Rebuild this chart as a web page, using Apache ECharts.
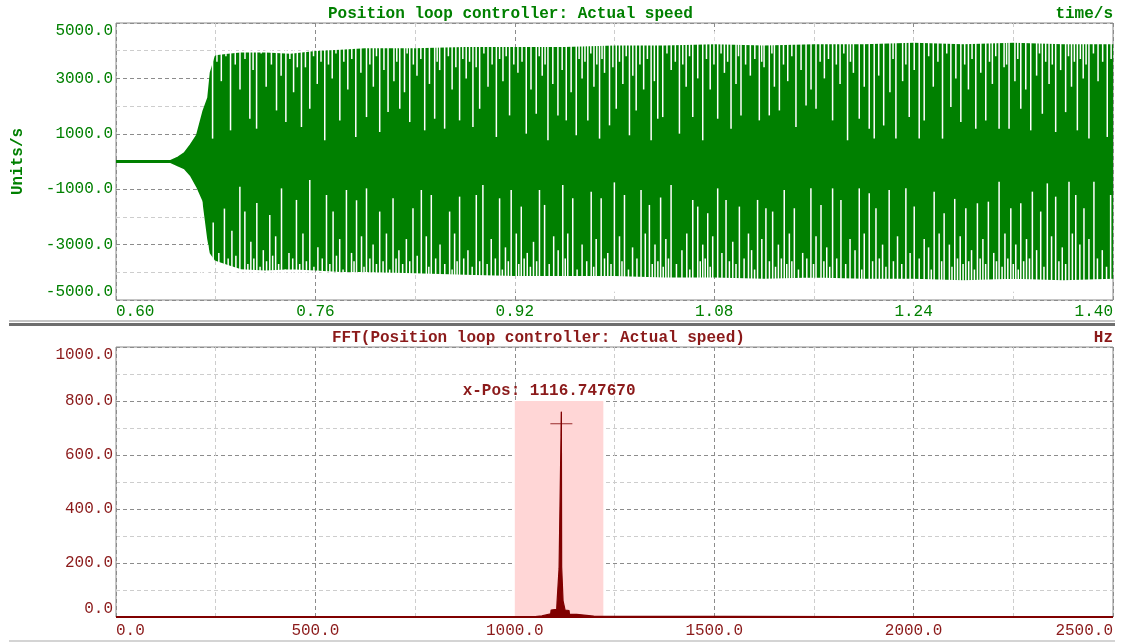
<!DOCTYPE html>
<html>
<head>
<meta charset="utf-8">
<script src="https://cdn.jsdelivr.net/npm/echarts/dist/echarts.min.js"></script>
<style>
  html, body { margin: 0; padding: 0; background: #fff; }
  #chart { width: 1125px; height: 644px; }
</style>
</head>
<body>
<div id="chart"></div>
<script>
// envelope of the speed signal (time/s, Units/s)
const sigT  = [0.600, 0.643, 0.650, 0.655, 0.660, 0.665, 0.670, 0.674, 0.676, 0.680, 0.690, 0.700, 0.720, 0.740, 0.760, 0.780, 0.800, 0.840, 0.880, 0.920, 0.960, 1.000, 1.040, 1.080, 1.120, 1.160, 1.200, 1.240, 1.280, 1.320, 1.360, 1.400];
const sigHi = [0, 0, 150, 300, 600, 950, 1800, 2300, 3200, 3800, 3850, 3900, 3900, 3850, 3950, 4000, 4050, 4050, 4100, 4100, 4100, 4150, 4150, 4200, 4150, 4200, 4200, 4250, 4200, 4250, 4200, 4200];
const sigLo = [0, 0, -150, -250, -500, -900, -1400, -2800, -3300, -3550, -3700, -3850, -3900, -3850, -3900, -3950, -3950, -4000, -4050, -4100, -4100, -4100, -4150, -4150, -4200, -4150, -4200, -4200, -4250, -4200, -4250, -4200];

// white gaps between the peaks: [time, value the gap reaches]
const topDeep = [[0.6775,826],[0.6919,1125],[0.7074,1544],[0.7128,1185],[0.7288,1843],[0.7363,1424],[0.7488,1245],[0.7555,1903],[0.7675,766],[0.7796,1484],[0.7924,886],[0.8010,1604],[0.8116,1065],[0.8183,1783],[0.8277,1903],[0.8357,1424],[0.8477,1125],
  [0.8557,1544],[0.8637,1185],[0.8757,1484],[0.8864,1245],[0.8918,1903],[0.9052,886],[0.9158,1664],[0.9292,1005],[0.9372,1723],[0.9466,766],[0.9546,1664],[0.9613,1484],[0.9693,946],[0.9786,1484],[0.9880,826],[0.9960,1305],[1.0014,1903],[1.0120,946],[1.0174,1843],[1.0294,766],[1.0347,1544],
  [1.0387,1604],[1.0521,1005],[1.0628,1604],[1.0708,766],[1.0828,1544],[1.0935,1185],[1.1015,1664],[1.1162,1484],[1.1242,1664],[1.1323,1843],[1.1456,1245],[1.1537,2023],[1.1617,1903],[1.1750,1484],[1.1870,766],[1.1964,1544],[1.2044,1185],[1.2084,826],[1.2160,1300],
  [1.2258,826],[1.2365,1604],[1.2445,826],[1.2485,1484],[1.2632,826],[1.2699,1963],[1.2779,1424],[1.2899,1185],[1.2979,1484],[1.3086,1185],[1.3166,1185],[1.3260,1903],[1.3340,1125],[1.3433,1723],[1.3540,1065],[1.3620,1783],[1.3714,1125],[1.3807,826],[1.3954,886]];
const topShort = [[0.6845,2900],[0.6995,2600],[0.7100,3300],[0.7205,2700],[0.7325,3100],[0.7425,2500],[0.7520,3400],[0.7615,2800],[0.7735,3000],[0.7860,2600],[0.7965,3200],[0.8065,2700],[0.8150,3300],[0.8230,2900],[0.8315,2500],[0.8415,3100],[0.8515,2800],[0.8597,3300],[0.8697,2600],[0.8810,3000],[0.8890,3400],[0.8985,2700],[0.9105,2900],[0.9225,3200],[0.9330,2600],[0.9420,3100],[0.9505,2800],[0.9580,3300],[0.9652,2500],[0.9740,3000],[0.9835,2700],[0.9920,3200],[0.9987,3400],[1.0067,2800],[1.0147,3100],[1.0234,2600],[1.0320,2900],[1.0455,3300],[1.0575,2700],[1.0668,3000],[1.0768,2600],[1.0882,3200],[1.0975,2800],[1.1090,3100],[1.1200,3400],[1.1283,2700],[1.1390,2900],[1.1497,3300],[1.1577,2600],[1.1684,3000],[1.1810,2800],[1.1917,3200],[1.2004,2700],[1.2120,3100],[1.2210,2500],[1.2312,2900],[1.2405,3300],[1.2558,2700],[1.2739,3000],[1.2840,2600],[1.2939,3200],[1.3032,2800],[1.3126,3400],[1.3213,2900],[1.3300,2600],[1.3387,3100],[1.3487,2800],[1.3580,3300],[1.3667,2700],[1.3761,3000],[1.3880,2900]];
const topFringe = [[0.6810,3600],[0.6882,3800],[0.6957,3500],[0.7035,3700],[0.7165,3900],[0.7247,3500],[0.7395,3700],[0.7455,3400],[0.7585,3800],[0.7645,3600],[0.7705,3500],[0.7765,3900],[0.7828,3600],[0.7892,3700],[0.8037,3500],[0.8090,3800],[0.8253,3600],[0.8336,3900],[0.8386,3500],[0.8446,3700],[0.8577,3600],[0.8667,3800],[0.8727,3400],[0.8783,3700],[0.8837,3600],[0.8952,3900],[0.9018,3500],[0.9078,3700],[0.9131,3800],[0.9192,3500],[0.9258,3600],[0.9396,3800],[0.9443,3500],[0.9716,3700],[0.9763,3600],[0.9810,3900],[0.9858,3500],[0.9900,3700],[1.0040,3600],[1.0094,3800],[1.0204,3500],[1.0264,3700],[1.0421,3900],[1.0488,3600],[1.0548,3500],[1.0602,3800],[1.0738,3700],[1.0798,3500],[1.0855,3900],[1.0908,3600],[1.0995,3800],[1.1052,3500],[1.1126,3700],[1.1181,3600],[1.1263,3900],[1.1356,3500],[1.1423,3800],[1.1650,3600],[1.1717,3700],[1.1780,3500],[1.1840,3900],[1.1893,3600],[1.2235,3700],[1.2338,3500],[1.2521,3800],[1.2595,3600],[1.2666,3900],[1.2810,3500],[1.2869,3700],[1.3009,3600],[1.3059,3800],[1.3146,3500],[1.3236,3700],[1.3410,3900],[1.3460,3600],[1.3513,3500],[1.3643,3800],[1.3690,3600],[1.3738,3700],[1.3784,3500],[1.3843,3900],[1.3917,3600],[1.3985,3700]];
const botDeep = [[0.6687,-1448],[0.6780,-2200],[0.6870,-1700],[0.6930,-2500],[0.6994,-910],[0.7034,-1807],[0.7130,-1500],[0.7234,-1927],[0.7328,-970],[0.7448,-1388],[0.7555,-670],[0.7689,-1209],[0.7742,-1807],[0.7849,-1029],[0.7930,-1400],[0.8010,-970],[0.8116,-1807],[0.8223,-1329],[0.8383,-1688],[0.8450,-1029],
  [0.8530,-1209],[0.8677,-1807],[0.8757,-1269],[0.8891,-1209],[0.8944,-850],[0.9078,-1329],[0.9171,-1029],[0.9252,-1628],[0.9398,-1029],[0.9439,-1568],[0.9585,-850],[0.9665,-1329],[0.9813,-1089],[0.9893,-1329],[0.9999,-754],[1.0080,-1209],[1.0213,-1029],[1.0280,-1568],[1.0370,-1300],
  [1.0454,-850],[1.0628,-1388],[1.0668,-1628],[1.0748,-1867],[1.0828,-970],[1.0895,-1388],[1.1002,-1628],[1.1148,-1388],[1.1215,-1688],[1.1269,-1807],[1.1362,-1029],[1.1443,-1688],[1.1576,-970],[1.1657,-1568],[1.1750,-970],[1.1817,-1388],[1.1964,-970],[1.2044,-1149],[1.2098,-1688],
  [1.2204,-1029],[1.2338,-970],[1.2405,-1628],[1.2565,-1089],[1.2645,-1867],[1.2730,-1350],[1.2819,-1688],[1.2912,-1508],[1.3000,-1450],[1.3086,-730],[1.3180,-1688],[1.3260,-1508],[1.3353,-1089],[1.3420,-1807],[1.3473,-790],[1.3540,-1269],[1.3647,-730],[1.3701,-1209],[1.3767,-1688],[1.3847,-730],[1.3981,-1209]];
const botShort = [[0.7082,-2900],[0.7182,-3200],[0.7281,-2700],[0.7388,-3300],[0.7500,-2600],[0.7620,-3100],[0.7795,-2800],[0.7890,-3300],[0.7970,-2700],[0.8063,-3000],[0.8170,-2600],[0.8270,-3200],[0.8330,-2800],[0.8417,-3400],[0.8490,-2700],[0.8600,-3000],[0.8717,-2600],[0.8824,-3200],[0.9011,-2800],[0.9125,-3100],[0.9212,-2600],[0.9300,-3300],[0.9350,-2900],[0.9512,-2700],[0.9548,-3200],[0.9625,-2600],[0.9740,-3000],[0.9853,-2800],[0.9946,-3300],[1.0040,-2700],[1.0145,-3100],[1.0247,-2600],[1.0325,-3000],[1.0412,-2800],[1.0541,-3200],[1.0580,-2600],[1.0708,-3000],[1.0788,-2700],[1.0862,-3300],[1.0949,-2900],[1.1075,-2600],[1.1100,-3200],[1.1182,-2800],[1.1315,-3000],[1.1403,-2600],[1.1510,-3300],[1.1617,-2700],[1.1703,-3100],[1.1890,-2800],[1.1930,-3200],[1.2004,-2600],[1.2151,-3000],[1.2271,-2700],[1.2372,-3300],[1.2485,-2800],[1.2520,-3100],[1.2605,-2600],[1.2687,-3000],[1.2774,-2700],[1.2865,-3200],[1.2956,-2800],[1.3043,-3300],[1.3133,-2600],[1.3220,-3000],[1.3306,-2800],[1.3387,-3200],[1.3507,-2700],[1.3593,-3100],[1.3674,-2600],[1.3734,-3000],[1.3807,-2800],[1.3914,-3200]];
const botFringe = [[0.6735,-3000],[0.6825,-3300],[0.6900,-3500],[0.6962,-3400],[0.7058,-3700],[0.7106,-3500],[0.7156,-3800],[0.7208,-3600],[0.7257,-3400],[0.7305,-3700],[0.7358,-3900],[0.7418,-3500],[0.7474,-3700],[0.7528,-3600],[0.7588,-3800],[0.7655,-3500],[0.7716,-3700],[0.7769,-3400],[0.7822,-3900],[0.7910,-3600],[0.7990,-3800],[0.8037,-3500],[0.8090,-3700],[0.8143,-3600],[0.8196,-3900],[0.8247,-3500],[0.8300,-3700],[0.8357,-3600],[0.8510,-3800],[0.8565,-3500],[0.8638,-3700],[0.8697,-3900],[0.8737,-3600],[0.8790,-3500],[0.8858,-3800],[0.8918,-3600],[0.8978,-3700],[0.9044,-3500],[0.9100,-3900],[0.9148,-3600],[0.9232,-3700],[0.9275,-3500],[0.9325,-3800],[0.9375,-3600],[0.9476,-3700],[0.9605,-3500],[0.9700,-3900],[0.9777,-3600],[0.9833,-3800],[0.9920,-3500],[0.9972,-3700],[1.0060,-3600],[1.0112,-3900],[1.0180,-3500],[1.0303,-3700],[1.0348,-3600],[1.0391,-3800],[1.0433,-3500],[1.0497,-3700],[1.0604,-3900],[1.0688,-3600],[1.0728,-3500],[1.0768,-3800],[1.0922,-3600],[1.0975,-3700],[1.1040,-3500],[1.1124,-3900],[1.1243,-3600],[1.1292,-3800],[1.1339,-3500],[1.1382,-3700],[1.1423,-3600],[1.1476,-3900],[1.1543,-3500],[1.1597,-3700],[1.1680,-3600],[1.1727,-3800],[1.1783,-3500],[1.1855,-3700],[1.1984,-3900],[1.2071,-3600],[1.2125,-3500],[1.2178,-3800],[1.2238,-3600],[1.2305,-3700],[1.2445,-3500],[1.2542,-3900],[1.2625,-3600],[1.2708,-3800],[1.2752,-3500],[1.2797,-3700],[1.2842,-3600],[1.2888,-3900],[1.2934,-3500],[1.2978,-3700],[1.3065,-3600],[1.3110,-3800],[1.3156,-3500],[1.3200,-3700],[1.3240,-3900],[1.3283,-3600],[1.3330,-3500],[1.3446,-3800],[1.3566,-3600],[1.3620,-3700],[1.3875,-3500],[1.3948,-3800]];

// spectrum (Hz, amplitude)
const fftFreq = [0, 845, 849, 853, 1040, 1042, 1068, 1070, 1090, 1091, 1105, 1106, 1110, 1111, 1116, 1116.75, 1117.5, 1120, 1121, 1125, 1126, 1136, 1137, 1155, 1157, 1198, 1200, 2500];
const fftAmp  = [0, 0, 6, 0, 0, 3, 4, 11, 12, 26, 28, 57, 60, 180, 185, 760, 185, 178, 60, 55, 26, 24, 11, 10, 4, 3, 0, 0];
const peakFreq = 1116.747670;
const peakMark = 716;
const bandFrom = 1000, bandTo = 1222, bandTop = 800;

const GREEN = '#008000';
const RED = '#800000';
const RED_TXT = '#8b1a1a';
const FONT = '"Liberation Mono", "Courier New", monospace';

const chart = echarts.init(document.getElementById('chart'));

function slitItem(params, api) {
    const t = api.value(0), v = api.value(1);
    const edge = v > 0 ? 4700 : -4700;
    const a = api.coord([t, v]);
    const b = api.coord([t, edge]);
    return {
        type: 'rect',
        shape: { x: a[0] - 0.75, y: Math.min(a[1], b[1]), width: 1.5, height: Math.abs(b[1] - a[1]) },
        style: { fill: '#ffffff' }
    };
}

function xAx(gi, min, max, step, color, digits, margin) {
    return {
        type: 'value', gridIndex: gi, min: min, max: max, interval: step,
        axisLine: { show: false }, axisTick: { show: false },
        axisLabel: {
            color: color, fontFamily: FONT, fontSize: 16, margin: margin,
            formatter: v => v.toFixed(digits),
            alignMinLabel: 'left', alignMaxLabel: 'right'
        },
        splitLine: { show: true, lineStyle: { color: '#8c8c8c', type: [4, 3] } },
        minorTick: { show: false, splitNumber: 2 },
        minorSplitLine: { show: true, lineStyle: { color: '#cdcdcd', type: [4, 3] } }
    };
}

function yAx(gi, min, max, step, color) {
    return {
        type: 'value', gridIndex: gi, min: min, max: max, interval: step,
        axisLine: { show: false }, axisTick: { show: false },
        axisLabel: {
            color: color, fontFamily: FONT, fontSize: 16, margin: 3,
            formatter: v => v.toFixed(1),
            verticalAlignMinLabel: 'bottom', verticalAlignMaxLabel: 'top'
        },
        splitLine: { show: true, lineStyle: { color: '#8c8c8c', type: [4, 3] } },
        minorTick: { show: false, splitNumber: 2 },
        minorSplitLine: { show: true, lineStyle: { color: '#cdcdcd', type: [4, 3] } }
    };
}

const yTop = yAx(0, -5000, 5000, 2000, GREEN);
yTop.name = 'Units/s';
yTop.nameLocation = 'middle';
yTop.nameGap = 90;
yTop.nameRotate = 90;
yTop.nameTextStyle = { color: GREEN, fontFamily: FONT, fontSize: 16, fontWeight: 'bold' };

const xBot = xAx(1, 0, 2500, 500, RED_TXT, 1, 6);

const titleStyle = (c) => ({ color: c, fontFamily: FONT, fontSize: 16, fontWeight: 'bold' });

const option = {
    animation: false,
    backgroundColor: '#ffffff',
    title: [
        { text: 'Position loop controller: Actual speed', left: 328, top: 6, padding: 0, textStyle: titleStyle(GREEN) },
        { text: 'time/s', right: 12, top: 6, padding: 0, textStyle: titleStyle(GREEN) },
        { text: 'FFT(Position loop controller: Actual speed)', left: 332, top: 330, padding: 0, textStyle: titleStyle(RED_TXT) },
        { text: 'Hz', right: 12, top: 330, padding: 0, textStyle: titleStyle(RED_TXT) }
    ],
    grid: [
        { left: 116, right: 12, top: 23, height: 277, show: true, borderColor: '#8a8a8a', borderWidth: 1 },
        { left: 116, right: 12, top: 347, height: 270, show: true, borderColor: '#8a8a8a', borderWidth: 1 }
    ],
    xAxis: [xAx(0, 0.6, 1.4, 0.16, GREEN, 2, 4), xBot],
    yAxis: [yTop, yAx(1, 0, 1000, 200, RED_TXT)],
    graphic: [
        { type: 'rect', shape: { x: 9, y: 320, width: 1106, height: 2 }, style: { fill: '#c4c4c4' } },
        { type: 'rect', shape: { x: 9, y: 323, width: 1106, height: 3 }, style: { fill: '#6e6e6e' } },
        { type: 'rect', shape: { x: 9, y: 640, width: 1106, height: 2 }, style: { fill: '#d4d4d4' } }
    ],
    series: [
        {
            type: 'line', xAxisIndex: 0, yAxisIndex: 0, symbol: 'none', z: 2,
            data: sigT.map((t, i) => [t, sigHi[i]]),
            lineStyle: { color: GREEN, width: 2 },
            areaStyle: { color: GREEN, opacity: 1 }
        },
        {
            type: 'line', xAxisIndex: 0, yAxisIndex: 0, symbol: 'none', z: 2,
            data: sigT.map((t, i) => [t, sigLo[i]]),
            lineStyle: { color: GREEN, width: 2 },
            areaStyle: { color: GREEN, opacity: 1 }
        },
        {
            // zero line through the middle of the band
            type: 'line', xAxisIndex: 0, yAxisIndex: 0, symbol: 'none', z: 3,
            data: [[sigT[0], 0], [sigT[sigT.length - 1], 0]],
            lineStyle: { color: GREEN, width: 3 }
        },
        {
            type: 'custom', xAxisIndex: 0, yAxisIndex: 0, z: 6,
            renderItem: slitItem,
            dimensions: ['t', 'v'],
            encode: { x: 0, y: 1 },
            data: topDeep.concat(topShort, topFringe, botDeep, botShort, botFringe)
        },
        {
            type: 'line', xAxisIndex: 1, yAxisIndex: 1, symbol: 'none',
            data: fftFreq.map((f, i) => [f, fftAmp[i]]),
            lineStyle: { color: RED, width: 1.2 },
            areaStyle: { color: RED, opacity: 1 },
            markArea: {
                silent: true,
                itemStyle: { color: '#ffd6d6' },
                label: {
                    show: true, position: 'top', distance: 2, offset: [-10, 0],
                    formatter: 'x-Pos: ' + peakFreq.toFixed(6),
                    color: RED_TXT, fontFamily: FONT, fontSize: 16, fontWeight: 'bold'
                },
                data: [[{ coord: [bandFrom, 0] }, { coord: [bandTo, bandTop] }]]
            }
        },
        {
            type: 'line', xAxisIndex: 1, yAxisIndex: 1, symbol: 'none',
            data: [[0, 0], [2500, 0]],
            lineStyle: { color: RED, width: 2 }
        },
        {
            type: 'scatter', xAxisIndex: 1, yAxisIndex: 1,
            symbol: 'path://M0,12L22,12M11,0L11,24', symbolSize: [22, 24],
            itemStyle: { color: 'none', borderColor: RED, borderWidth: 1 },
            data: [[peakFreq, peakMark]]
        }
    ]
};

chart.setOption(option);
</script>
</body>
</html>
